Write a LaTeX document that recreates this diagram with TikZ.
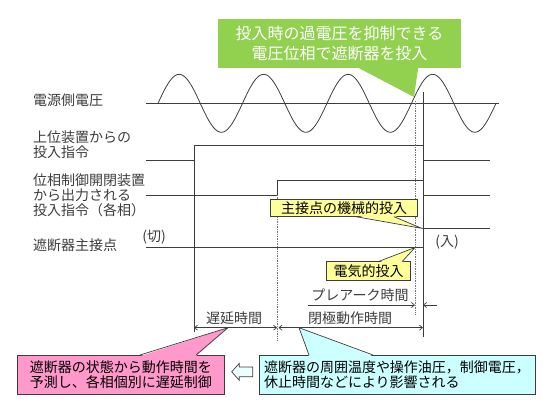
\documentclass[tikz,border=0pt]{standalone}
\usepackage{fontspec}
\setmainfont{Noto Sans CJK JP}
\usetikzlibrary{arrows.meta, calc, positioning}
\definecolor{calloutgreen}{RGB}{146,208,80}
\definecolor{noteyellow}{RGB}{255,255,153}
\definecolor{notepink}{RGB}{255,153,204}
\definecolor{notecyan}{RGB}{204,255,255}
\definecolor{inkgray}{RGB}{60,60,60}
\newcommand{\jpfs}{\fontsize{14}{15}\selectfont}
\newcommand{\jpbig}{\fontsize{16}{20}\selectfont}
\tikzset{
    signal/.style={line width=0.8pt, draw=inkgray},
    guide/.style={line width=0.7pt, draw=inkgray},
    guidedot/.style={line width=0.7pt, draw=black!55, densely dotted},
    dimboth/.style={line width=0.7pt, draw=inkgray, {Straight Barb[length=3pt,width=5pt]}-{Straight Barb[length=3pt,width=5pt]}},
    dimone/.style={line width=0.7pt, draw=inkgray, -{Straight Barb[length=3pt,width=5pt]}},
    rowlabel/.style={font=\jpfs, inner sep=0pt, align=left, anchor=west, text=inkgray},
    timelabel/.style={font=\jpfs, inner sep=0pt, text=inkgray},
    notebox/.style={draw=inkgray, line width=0.7pt, inner sep=0pt, align=center, font=\jpfs},
    yellownote/.style={notebox, fill=noteyellow},
    pinknote/.style={notebox, fill=notepink},
    cyannote/.style={notebox, fill=notecyan, align=left},
    greennote/.style={fill=calloutgreen, inner sep=0pt, align=center, text=white, font=\jpbig}
}
\begin{document}
\begin{tikzpicture}[x=1pt, y=-1pt]
    \useasboundingbox (0,0) rectangle (550,413);

    % Row labels
    \node[rowlabel] (lblVolt) at (33,100.7) {電源側電圧};
    \node[rowlabel] (lblUpper) at (33,144.5) {上位装置からの\\投入指令};
    \node[rowlabel] (lblPhase) at (33,195) {位相制御開閉装置\\から出力される\\投入指令（各相）};
    \node[rowlabel] (lblContact) at (33,245) {遮断器主接点};

    % Source voltage
    \coordinate (axisL) at (146,103.3);
    \coordinate (axisR) at (499,103.3);
    \draw[signal] (axisL) -- (axisR);
    \draw[signal] plot[domain=158:496, samples=160, smooth] (\x, {103.3 - 29*sin((\x-158)/84.5*360)});

    % Command from upper device
    \coordinate (upA) at (146,160);
    \coordinate (upB) at (194,160);
    \coordinate (upC) at (194,145);
    \coordinate (upD) at (423,145);
    \coordinate (upE) at (423,160);
    \coordinate (upF) at (490,160);
    \draw[signal] (upA) -- (upB) -- (upC) -- (upD);
    \draw[signal] (upE) -- (upF);

    % Command per phase
    \coordinate (phA) at (146,195);
    \coordinate (phB) at (277,195);
    \coordinate (phC) at (277,180.7);
    \coordinate (phD) at (423,180.7);
    \coordinate (phE) at (423,195);
    \coordinate (phF) at (490,195);
    \draw[signal] (phA) -- (phB) -- (phC) -- (phD);
    \draw[signal] (phE) -- (phF);

    % Main contact
    \coordinate (mcA) at (146,247);
    \coordinate (mcB) at (423,247);
    \coordinate (mcC) at (423,228.3);
    \coordinate (mcD) at (490,228.3);
    \draw[signal] (mcA) -- (mcB);
    \draw[signal] (mcC) -- (mcD);
    \node[timelabel] (tOff) at (154,237) {(切)};
    \node[timelabel] (tOn) at (447,242) {(入)};

    % Vertical guides
    \coordinate (gUpTop) at (194,160);
    \coordinate (gUpBot) at (194,332);
    \coordinate (gPhTop) at (277,195);
    \coordinate (gPhBot) at (277,340);
    \coordinate (gElTop) at (415,101);
    \coordinate (gElBot) at (415,315);
    \coordinate (gMeTop) at (423,92);
    \coordinate (gMeBot) at (423,337);
    \draw[guide] (gUpTop) -- (gUpBot);
    \draw[guidedot] (gPhTop) -- (gPhBot);
    \draw[guidedot] (gElTop) -- (gElBot);
    \draw[guide] (gMeTop) -- (gMeBot);

    % Time spans
    \coordinate (preL) at (308,305);
    \coordinate (preR) at (415,305);
    \coordinate (preOut) at (437,305);
    \coordinate (preIn) at (423,305);
    \draw[dimone] (preL) -- (preR);
    \draw[dimone] (preOut) -- (preIn);
    \node[timelabel] (tPrearc) at (360,295) {プレアーク時間};

    \coordinate (delL) at (194,327.7);
    \coordinate (delR) at (277,327.7);
    \draw[dimboth] (delL) -- (delR);
    \node[timelabel] (tDelay) at (234,318) {遅延時間};

    \coordinate (clsL) at (278.5,327.7);
    \coordinate (clsR) at (423,327.7);
    \draw[dimboth] (clsL) -- (clsR);
    \node[timelabel] (tClose) at (350,318) {閉極動作時間};

    % Green callout
    \node[greennote, minimum width=242.4, minimum height=49] (gNote) at (339.5,43.8) {投入時の過電圧を抑制できる\\電圧位相で遮断器を投入};
    \coordinate (gB1) at (356.7,67);
    \coordinate (gB2) at (418.3,67);
    \coordinate (gTip) at (414,97);
    \fill[calloutgreen] (gB1) -- (gTip) -- (gB2) -- cycle;

    % Yellow notes
    \node[yellownote, minimum width=146.6, minimum height=17.4] (mechNote) at (344,208) {主接点の機械的投入};
    \coordinate (mB1) at (356,216.7);
    \coordinate (mB2) at (394,216.7);
    \coordinate (mTip) at (421.7,228.3);
    \fill[noteyellow] ($(mB1)+(0,-1.2)$) -- (mTip) -- ($(mB2)+(0,-1.2)$) -- cycle;
    \draw[guide] (mB1) -- (mTip) -- (mB2);

    \node[yellownote, minimum width=84, minimum height=18.3] (elecNote) at (368.7,270.9) {電気的投入};
    \coordinate (eB1) at (378,261.7);
    \coordinate (eB2) at (402,261.7);
    \coordinate (eTip) at (415,247.5);
    \fill[noteyellow] ($(eB1)+(0,1.2)$) -- (eTip) -- ($(eB2)+(0,1.2)$) -- cycle;
    \draw[guide] (eB1) -- (eTip) -- (eB2);

    % Bottom notes
    \node[pinknote, minimum width=206.5, minimum height=39] (pinkNote) at (120.8,374.5) {遮断器の状態から動作時間を\\予測し、各相個別に遅延制御};
    \coordinate (pB1) at (140,355);
    \coordinate (pB2) at (196,355);
    \coordinate (pTip) at (228,327.7);
    \fill[notepink] ($(pB1)+(0,1.2)$) -- (pTip) -- ($(pB2)+(0,1.2)$) -- cycle;
    \draw[guide] (pB1) -- (pTip) -- (pB2);

    \node[cyannote, minimum width=276, minimum height=39, text width=266] (cyanNote) at (397,374.5) {遮断器の周囲温度や操作油圧，制御電圧，\\休止時間などにより影響される};
    \coordinate (cB1) at (309,355);
    \coordinate (cB2) at (373,355);
    \coordinate (cTip) at (299,327.7);
    \fill[notecyan] ($(cB1)+(0,1.2)$) -- (cTip) -- ($(cB2)+(0,1.2)$) -- cycle;
    \draw[guide] (cB1) -- (cTip) -- (cB2);

    % Hollow arrow between notes
    \draw[guide, fill=notecyan!40] (231.7,371.8) -- (239.3,363.3) -- (239.3,367) -- (252.7,367)
        -- (252.7,376.7) -- (239.3,376.7) -- (239.3,380.3) -- cycle;
\end{tikzpicture}
\end{document}
